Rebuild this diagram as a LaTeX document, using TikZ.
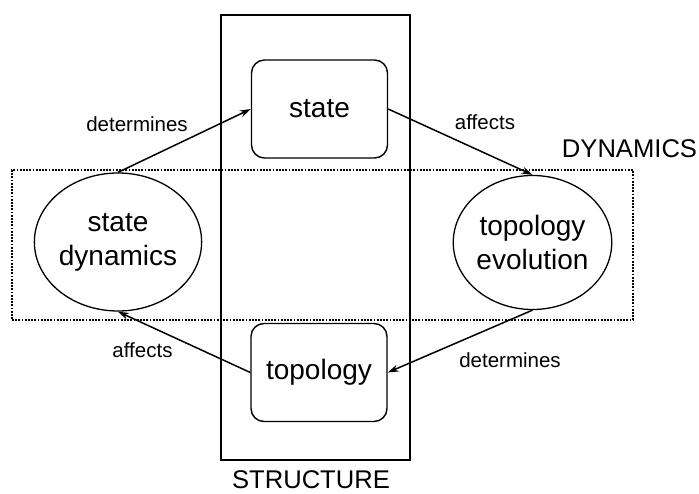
\documentclass[tikz,border=0pt]{standalone}
\usepackage{fontspec}
\setmainfont{Liberation Sans}
\usetikzlibrary{shapes.geometric,arrows.meta}
\begin{document}
\begin{tikzpicture}[x=1pt,y=-1pt,
  bigtxt/.style={font=\fontsize{28}{34}\selectfont},
  lbl/.style={font=\fontsize{20.5}{24}\selectfont, anchor=base},
  ttl/.style={font=\fontsize{25.6}{30}\selectfont, anchor=base},
  rbox/.style={draw, line width=1.4pt, rounded corners=13pt, minimum width=136pt, minimum height=98pt, inner sep=0pt, bigtxt},
  oval/.style={draw, ellipse, line width=1.3pt, minimum width=150pt, minimum height=138pt, inner sep=0pt, bigtxt, align=center},
  conn/.style={line width=1.5pt, -{Stealth[length=11pt,width=7pt]}},
  dotbox/.style={draw, line width=2.2pt, dash pattern=on 1.8pt off 1.4pt, inner sep=0pt},
  solidbox/.style={draw, line width=2pt, inner sep=0pt}]
\useasboundingbox (0,0) rectangle (699,494);
% structure rectangle
\node[solidbox, minimum width=189pt, minimum height=445pt] (structure) at (315.5,237.5) {};
% dynamics dotted rectangle
\node[dotbox, minimum width=621pt, minimum height=150pt] (dynamics) at (322.5,245) {};
% boxes
\node[rbox] (st) at (319.5,109) {state};
\node[rbox] (tp) at (319,372.5) {topology};
% ellipses
\node[oval, yshift=-1pt] (sd) at (118,241) {state\\dynamics};
\node[oval, minimum height=134pt, yshift=-1pt] (te) at (532.5,241.5) {topology\\evolution};
% titles
\node[ttl] (dynlbl) at (629.5,158) {DYNAMICS};
\node[ttl] (strlbl) at (311,488) {STRUCTURE};
% connectors
\draw[conn] (sd.north) -- (st.west);
\draw[conn] (st.east) -- (te.north);
\draw[conn] (te.south) -- (tp.east);
\draw[conn] (tp.west) -- (sd.south);
% labels
\node[lbl] (l1) at (137,131.5) {determines};
\node[lbl] (l2) at (485,130) {affects};
\node[lbl] (l3) at (142.5,358) {affects};
\node[lbl] (l4) at (510,367) {determines};
\end{tikzpicture}
\end{document}
